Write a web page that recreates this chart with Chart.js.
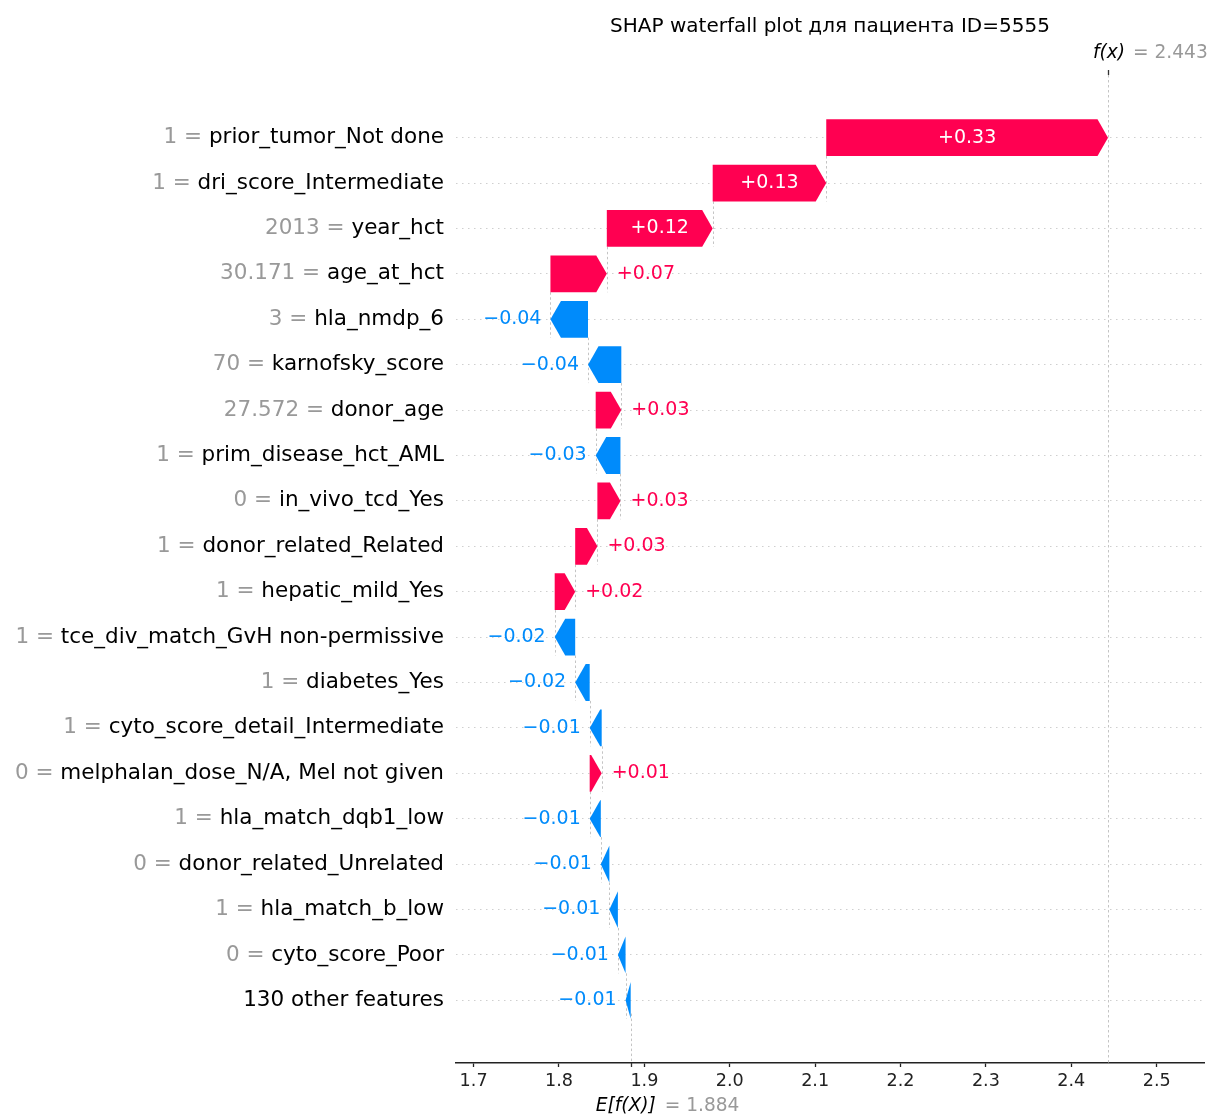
<!DOCTYPE html>
<html>
<head>
<meta charset="utf-8">
<title>SHAP waterfall</title>
<script src="https://cdn.jsdelivr.net/npm/chart.js@4.4.1/dist/chart.umd.min.js"></script>
<style>
  html, body { margin: 0; padding: 0; background: #fff; }
  #wrap { width: 1212px; height: 1117px; }
</style>
</head>
<body>
<div id="wrap"><canvas id="shap" width="1212" height="1117"></canvas></div>
<script>
// rows are listed top to bottom, as they appear in the plot
const featureNames = [
  'prior_tumor_Not done', 'dri_score_Intermediate', 'year_hct', 'age_at_hct', 'hla_nmdp_6',
  'karnofsky_score', 'donor_age', 'prim_disease_hct_AML', 'in_vivo_tcd_Yes', 'donor_related_Related',
  'hepatic_mild_Yes', 'tce_div_match_GvH non-permissive', 'diabetes_Yes', 'cyto_score_detail_Intermediate',
  'melphalan_dose_N/A, Mel not given', 'hla_match_dqb1_low', 'donor_related_Unrelated', 'hla_match_b_low',
  'cyto_score_Poor', '130 other features'
];
const featureValues = [
  '1', '1', '2013', '30.171', '3', '70', '27.572', '1', '0', '1',
  '1', '1', '1', '1', '0', '1', '0', '1', '0', ''
];
const shapValues = [
  0.330, 0.133, 0.124, 0.066, -0.044, -0.039, 0.030, -0.029, 0.027, 0.026,
  0.024, -0.024, -0.017, -0.014, 0.014, -0.013, -0.010, -0.010, -0.009, -0.006
];
const baseValue = 1.884;
const xTicks = [1.7, 1.8, 1.9, 2.0, 2.1, 2.2, 2.3, 2.4, 2.5];

const RED = '#ff0051';
const BLUE = '#008bfb';
const FAMILY = "'DejaVu Sans', sans-serif";
const HEAD_LEN = 10.5;

// walk up from the expected value at the bottom row
const n = shapValues.length;
const starts = new Array(n);
const ends = new Array(n);
let acc = baseValue;
for (let i = n - 1; i >= 0; i--) {
  starts[i] = acc;
  acc += shapValues[i];
  ends[i] = acc;
}
const fx = acc;

const fmtShap = v => (v >= 0 ? '+' : '\u2212') + Math.abs(v).toFixed(2);

const waterfallPlugin = {
  id: 'waterfall',
  beforeDatasetsDraw(chart) {
    const { ctx, chartArea, scales: { x, y } } = chart;
    const bars = chart.getDatasetMeta(0).data;
    ctx.save();
    ctx.strokeStyle = '#c4c4c4';
    ctx.lineWidth = 1;
    ctx.setLineDash([2.5, 2.5]);
    // connectors between consecutive bars
    for (let i = 1; i < n; i++) {
      const xp = Math.round(x.getPixelForValue(ends[i])) + 0.5;
      const h = bars[i].height / 2;
      ctx.beginPath();
      ctx.moveTo(xp, y.getPixelForValue(i - 1) + h);
      ctx.lineTo(xp, y.getPixelForValue(i) + h);
      ctx.stroke();
    }
    // f(x) across the whole plot, E[f(X)] only under the last row
    const xf = Math.round(x.getPixelForValue(fx)) + 0.5;
    ctx.beginPath();
    ctx.moveTo(xf, chartArea.top);
    ctx.lineTo(xf, chartArea.bottom);
    ctx.stroke();
    const xe = Math.round(x.getPixelForValue(baseValue)) + 0.5;
    ctx.beginPath();
    ctx.moveTo(xe, chartArea.bottom - (chartArea.bottom - chartArea.top) / n);
    ctx.lineTo(xe, chartArea.bottom);
    ctx.stroke();
    ctx.restore();
  },
  afterDatasetsDraw(chart) {
    const { ctx, scales: { x } } = chart;
    const bars = chart.getDatasetMeta(0).data;
    ctx.save();
    ctx.font = '19px ' + FAMILY;
    ctx.textBaseline = 'middle';
    bars.forEach((bar, i) => {
      const pos = shapValues[i] >= 0;
      const x0 = x.getPixelForValue(starts[i]);
      const x1 = x.getPixelForValue(ends[i]);
      const h = bar.height / 2;
      const yc = bar.y;
      const dir = pos ? 1 : -1;
      const hl = Math.min(Math.abs(x1 - x0), HEAD_LEN);
      ctx.fillStyle = pos ? RED : BLUE;
      ctx.beginPath();
      ctx.moveTo(x0, yc - h);
      ctx.lineTo(x1 - dir * hl, yc - h);
      ctx.lineTo(x1, yc);
      ctx.lineTo(x1 - dir * hl, yc + h);
      ctx.lineTo(x0, yc + h);
      ctx.closePath();
      ctx.fill();

      const txt = fmtShap(shapValues[i]);
      const tw = ctx.measureText(txt).width;
      if (tw + 12 < Math.abs(x1 - x0)) {
        ctx.fillStyle = '#ffffff';
        ctx.textAlign = 'center';
        ctx.fillText(txt, (x0 + x1) / 2, yc);
      } else if (pos) {
        ctx.fillStyle = RED;
        ctx.textAlign = 'left';
        ctx.fillText(txt, x1 + 10, yc);
      } else {
        ctx.fillStyle = BLUE;
        ctx.textAlign = 'right';
        ctx.fillText(txt, x1 - 9, yc);
      }
    });
    ctx.restore();
  },
  afterDraw(chart) {
    const { ctx, chartArea, scales: { x, y } } = chart;
    ctx.save();
    // grey "value = " in front of each feature name
    ctx.font = '21.5px ' + FAMILY;
    ctx.textBaseline = 'middle';
    ctx.textAlign = 'right';
    ctx.fillStyle = '#999999';
    const labelRight = y.right - 12;
    featureNames.forEach((name, i) => {
      if (!featureValues[i]) return;
      const w = ctx.measureText(name).width;
      ctx.fillText(featureValues[i] + ' = ', labelRight - w, y.getPixelForValue(i));
    });

    // f(x) on top, E[f(X)] below the axis
    const xf = x.getPixelForValue(fx);
    const xe = x.getPixelForValue(baseValue);
    ctx.strokeStyle = '#333333';
    ctx.lineWidth = 1.3;
    ctx.beginPath();
    ctx.moveTo(Math.round(xf) + 0.5, chartArea.top - 5);
    ctx.lineTo(Math.round(xf) + 0.5, chartArea.top);
    ctx.moveTo(Math.round(xe) + 0.5, chartArea.bottom);
    ctx.lineTo(Math.round(xe) + 0.5, chartArea.bottom + 4);
    ctx.stroke();

    ctx.textBaseline = 'middle';
    ctx.font = 'italic 18.6px ' + FAMILY;
    ctx.fillStyle = '#000000';
    ctx.textAlign = 'right';
    ctx.fillText('f(x)', xf + 17, 53);
    ctx.fillText('E[f(X)]', xe + 25, 1106);
    ctx.font = '18.6px ' + FAMILY;
    ctx.fillStyle = '#999999';
    ctx.textAlign = 'left';
    ctx.fillText('= ' + fx.toFixed(3), xf + 25, 53);
    ctx.fillText('= ' + baseValue.toFixed(3), xe + 34, 1106);
    ctx.restore();
  }
};

new Chart(document.getElementById('shap'), {
  type: 'bar',
  data: {
    datasets: [{
      data: shapValues.map((v, i) => ({ x: [starts[i], ends[i]], y: i })),
      backgroundColor: 'rgba(0,0,0,0)',
      borderWidth: 0,
      barPercentage: 0.81,
      categoryPercentage: 1.0
    }]
  },
  options: {
    indexAxis: 'y',
    responsive: false,
    animation: false,
    events: [],
    devicePixelRatio: 1,
    layout: { padding: { left: 0, right: 8, top: 0, bottom: 0 } },
    plugins: {
      legend: { display: false },
      tooltip: { enabled: false },
      title: {
        display: true,
        fullSize: false,
        text: 'SHAP waterfall plot для пациента ID=5555',
        color: '#000000',
        font: { family: FAMILY, size: 20, weight: 'normal' },
        padding: { top: 15, bottom: 36 }
      }
    },
    scales: {
      x: {
        type: 'linear',
        min: 1.6794,
        max: 2.5554,
        afterBuildTicks: s => { s.ticks = xTicks.map(v => ({ value: v })); },
        afterFit: s => { s.height = 54; },
        ticks: {
          autoSkip: false,
          maxRotation: 0,
          padding: 4,
          color: '#222222',
          font: { family: FAMILY, size: 17.6 },
          callback: v => v.toFixed(1)
        },
        grid: {
          drawOnChartArea: false,
          drawTicks: true,
          tickLength: 4,
          tickColor: '#222222',
          tickWidth: 1.3
        },
        border: { display: true, color: '#222222', width: 1.5 }
      },
      y: {
        type: 'linear',
        reverse: true,
        offset: false,
        min: -1.38,
        max: n - 1 + 1.38,
        afterBuildTicks: s => { s.ticks = featureNames.map((_, i) => ({ value: i })); },
        afterFit: s => { s.width = 456; },
        ticks: {
          autoSkip: false,
          padding: 12,
          color: '#000000',
          font: { family: FAMILY, size: 21.5 },
          callback: v => featureNames[v]
        },
        grid: {
          offset: false,
          color: '#cfcfcf',
          lineWidth: 1,
          drawTicks: false
        },
        border: { display: false, dash: [1.5, 4.5] }
      }
    }
  },
  plugins: [waterfallPlugin]
});
</script>
</body>
</html>
